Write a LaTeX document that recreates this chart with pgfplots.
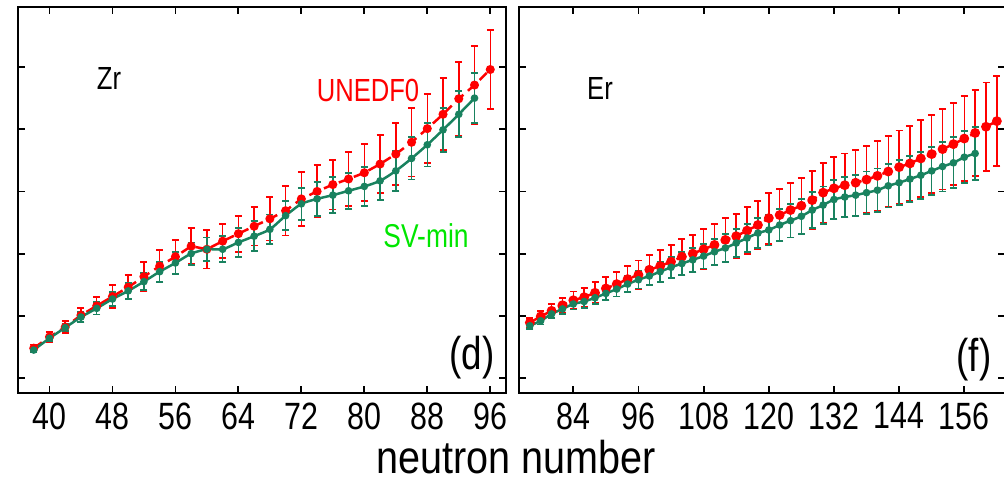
\documentclass[border=0pt]{standalone}
\usepackage{pgfplots}
\pgfplotsset{compat=1.18}
\usepackage{fontspec}
\setmainfont{Liberation Sans}
\newfontfamily\nf[FakeStretch=0.8]{Liberation Sans}
\newfontfamily\nfb[FakeStretch=0.86]{Liberation Sans}
\definecolor{ured}{RGB}{255,0,0}
\definecolor{sgreen}{RGB}{25,130,95}
\definecolor{lgreen}{RGB}{0,230,0}
\pgfplotsset{
 mypanel/.style={
  scale only axis, height=386pt, ymin=-0.241, ymax=5.965,
  ytick={0,1,2,3,4,5}, yticklabels={},
  axis line style={line width=2.2pt},
  tick style={line width=1.8pt, black},
  major tick length=7pt, tick align=inside,
  xticklabel style={font=\nf\fontsize{38}{40}\selectfont, yshift=-6pt},
  /pgf/number format/assume math mode=true,
 },
 redser/.style={ured, line width=2.5pt, dash pattern=on 10pt off 6pt,
   mark=*, mark size=#1, mark options={solid, fill=ured, draw=ured},
   error bars/.cd, y dir=both, y explicit, error mark=-,
   error bar style={solid, line width=1.5pt, ured},
   error mark options={rotate=90, mark size=3.5pt, line width=1.8pt, ured, solid}},
 redser/.default=3.2pt,
 greenser/.style={sgreen, line width=2.5pt, smooth, tension=0.4,
   mark=*, mark size=2.5pt, mark options={solid, fill=sgreen, draw=sgreen},
   error bars/.cd, y dir=both, y explicit, error mark=-,
   error bar style={solid, line width=1.5pt, sgreen},
   error mark options={rotate=90, mark size=3.5pt, line width=1.8pt, sgreen, solid}},
}
\begin{document}
\begin{tikzpicture}
\begin{axis}[mypanel, at={(18pt,-393pt)}, anchor=south west, width=488pt,
  xmin=36, xmax=98, xtick={40,48,56,64,72,80,88,96}]
\addplot[redser] table[x=N,y=v,y error=e] {
N v e
38 0.48 0.06
40 0.66 0.08
42 0.82 0.10
44 1.01 0.11
46 1.16 0.14
48 1.31 0.18
50 1.46 0.19
52 1.63 0.23
54 1.80 0.26
56 1.95 0.27
58 2.12 0.29
60 2.07 0.31
62 2.20 0.27
64 2.32 0.29
66 2.44 0.31
68 2.56 0.35
70 2.69 0.40
72 2.88 0.43
74 3.00 0.42
76 3.11 0.40
78 3.20 0.43
80 3.30 0.46
82 3.44 0.47
84 3.60 0.50
86 3.79 0.55
88 4.01 0.55
90 4.24 0.58
92 4.49 0.59
94 4.71 0.63
96 4.96 0.63
};
\addplot[greenser] table[x=N,y=v,y error=e] {
N v e
38 0.45 0.03
40 0.64 0.05
42 0.81 0.06
44 0.98 0.08
46 1.12 0.10
48 1.27 0.11
50 1.40 0.13
52 1.55 0.14
54 1.71 0.16
56 1.85 0.18
58 2.00 0.18
60 2.07 0.19
62 2.07 0.21
64 2.18 0.23
66 2.28 0.24
68 2.39 0.24
70 2.61 0.23
72 2.80 0.26
74 2.88 0.27
76 2.94 0.29
78 3.01 0.29
80 3.08 0.31
82 3.17 0.31
84 3.33 0.32
86 3.53 0.34
88 3.75 0.35
90 3.99 0.35
92 4.24 0.37
94 4.50 0.40
};
\end{axis}
\begin{axis}[mypanel, at={(519pt,-393pt)}, anchor=south west, width=486pt,
  xmin=74, xmax=163.5, xtick={84,96,108,120,132,144,156}]
\addplot[redser=3.6pt] table[x=N,y=v,y error=e] {
N v e
76 0.89 0.08
78 0.99 0.09
80 1.08 0.11
82 1.17 0.12
84 1.25 0.14
86 1.30 0.15
88 1.37 0.17
90 1.44 0.19
92 1.51 0.20
94 1.59 0.21
96 1.66 0.23
98 1.74 0.24
100 1.80 0.26
102 1.87 0.27
104 1.95 0.29
106 2.00 0.30
108 2.07 0.32
110 2.14 0.33
112 2.22 0.35
114 2.28 0.36
116 2.37 0.38
118 2.46 0.39
120 2.57 0.41
122 2.62 0.42
124 2.70 0.44
126 2.77 0.45
128 2.86 0.47
130 2.98 0.48
132 3.05 0.50
134 3.10 0.51
136 3.14 0.53
138 3.19 0.54
140 3.25 0.56
142 3.32 0.57
144 3.39 0.59
146 3.45 0.60
148 3.53 0.62
150 3.60 0.63
152 3.68 0.65
154 3.76 0.66
156 3.85 0.68
158 3.94 0.69
160 4.04 0.71
162 4.13 0.72
};
\addplot[greenser] table[x=N,y=v,y error=e] {
N v e
76 0.84 0.05
78 0.92 0.06
80 1.03 0.07
82 1.11 0.08
84 1.19 0.09
86 1.23 0.10
88 1.29 0.10
90 1.36 0.11
92 1.43 0.12
94 1.51 0.13
96 1.58 0.14
98 1.64 0.15
100 1.71 0.16
102 1.78 0.17
104 1.84 0.18
106 1.90 0.19
108 1.96 0.20
110 2.03 0.21
112 2.09 0.22
114 2.17 0.22
116 2.25 0.23
118 2.33 0.24
120 2.38 0.25
122 2.46 0.26
124 2.53 0.27
126 2.60 0.28
128 2.70 0.29
130 2.78 0.30
132 2.87 0.31
134 2.91 0.32
136 2.94 0.33
138 2.98 0.34
140 3.02 0.35
142 3.09 0.35
144 3.14 0.36
146 3.20 0.37
148 3.26 0.38
150 3.33 0.39
152 3.40 0.40
154 3.46 0.41
156 3.55 0.42
158 3.61 0.43
};
\end{axis}
\node[font=\nf\fontsize{32}{36}\selectfont] at (109pt,-78pt) {Zr};
\node[font=\nf\fontsize{32}{36}\selectfont] at (600pt,-88pt) {Er};
\node[font=\nf\fontsize{32}{36}\selectfont, text=ured] at (368pt,-90pt) {UNEDF0};
\node[font=\nf\fontsize{33}{36}\selectfont, text=lgreen] at (426pt,-236pt) {SV-min};
\node[font=\nf\fontsize{46}{50}\selectfont] at (472pt,-358pt) {(d)};
\node[font=\nf\fontsize{46}{50}\selectfont] at (974pt,-360pt) {(f)};
\node[font=\nfb\fontsize{46}{48}\selectfont, anchor=base, inner sep=0pt] at (516pt,-473pt) {neutron number};
\pgfresetboundingbox
\useasboundingbox (0pt,0pt) rectangle (1004pt,-484pt);
\end{tikzpicture}
\end{document}
